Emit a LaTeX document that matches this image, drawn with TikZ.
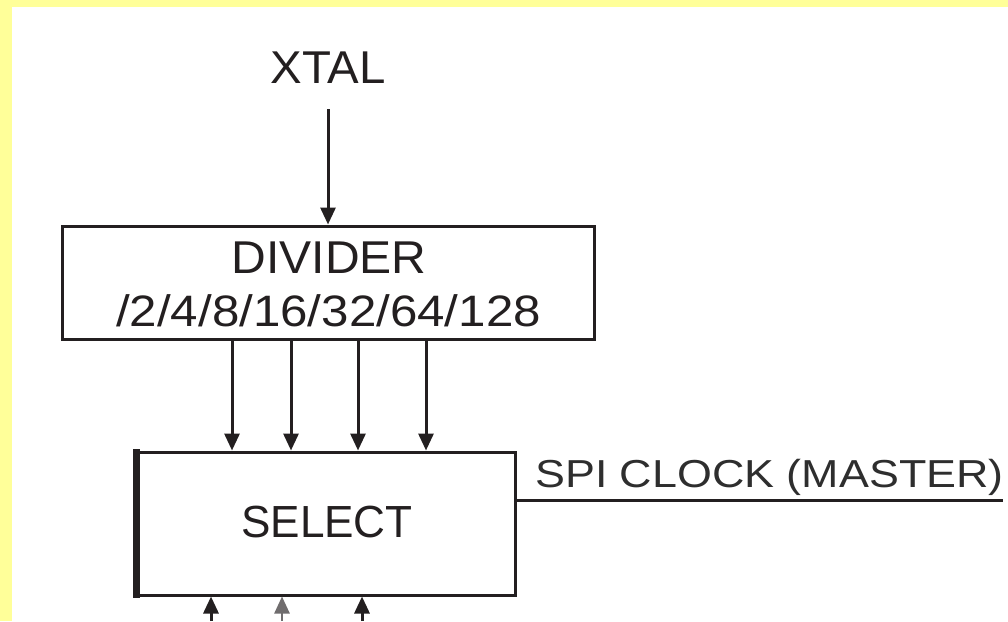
\documentclass[tikz,border=0pt]{standalone}
\usepackage{fontspec}
\setmainfont{Liberation Sans}
\usetikzlibrary{arrows.meta,calc}
\definecolor{bgyellow}{HTML}{FFFF99}
\definecolor{ink}{HTML}{231F20}
\definecolor{softink}{HTML}{2E2E2E}
\tikzset{
  blockbox/.style={draw=ink,line width=3pt,fill=white,inner sep=0pt},
  bigtext/.style={text=ink,inner sep=0pt,anchor=base,font=\fontsize{46}{50}\selectfont},
  arr/.style={draw=ink,line width=3pt,-{Triangle[width=15pt,length=17pt]}},
  lightarr/.style={draw=ink!65,line width=2.5pt,-{Triangle[width=15pt,length=17pt]}},
  plainline/.style={draw=ink,line width=3pt},
}
\begin{document}
\begin{tikzpicture}[x=1pt,y=-1pt]
\useasboundingbox (0,0) rectangle (1008,621);
\fill[bgyellow] (0,0) rectangle (1008,621);
\fill[white] (12,7) rectangle (1008,621);

% XTAL
\node[bigtext] (xtal) at (328,83) {\scalebox{1.03}[1]{XTAL}};
\coordinate (xtalout) at (328,109);

% Divider
\node[blockbox,minimum width=532pt,minimum height=113pt] (div) at (328,282.5) {};
\node[bigtext] (divt1) at (329,273) {\scalebox{1.045}[1]{DIVIDER}};
\node[bigtext,font=\fontsize{44}{48}\selectfont] (divt2) at (328.5,326) {\scalebox{1.12}[1]{/2/4/8/16/32/64/128}};

\draw[arr] (xtalout) -- (div.north);

% Select
\node[blockbox,minimum width=377pt,minimum height=143pt] (sel) at (326.5,523.5) {};
\draw[ink,line width=7pt] ($(sel.north west)+(0,-1.5)$) -- ($(sel.south west)+(0,1.5)$);
\node[bigtext,font=\fontsize{45}{48}\selectfont] (selt) at (327,537) {\scalebox{0.98}[1]{SELECT}};

% Divider outputs to select
\foreach \xx in {232,291,358,426}{
  \draw[arr] (\xx,0 |- div.south) -- (\xx,0 |- sel.north);
}

% SPI clock output
\coordinate (spiend) at (1003,500);
\draw[plainline] (sel.east |- spiend) -- (spiend);
\node[text=softink,inner sep=0pt,anchor=base west,font=\fontsize{39}{42}\selectfont] (spit) at (535,487) {\scalebox{1.15}[1]{SPI CLOCK (MASTER)}};

% inputs from below
\coordinate (in1) at (211,621);
\coordinate (in2) at (282,621);
\coordinate (in3) at (362,621);
\draw[arr] (in1) -- (in1 |- sel.south);
\draw[lightarr] (in2) -- (in2 |- sel.south);
\draw[arr] (in3) -- (in3 |- sel.south);
\end{tikzpicture}
\end{document}
